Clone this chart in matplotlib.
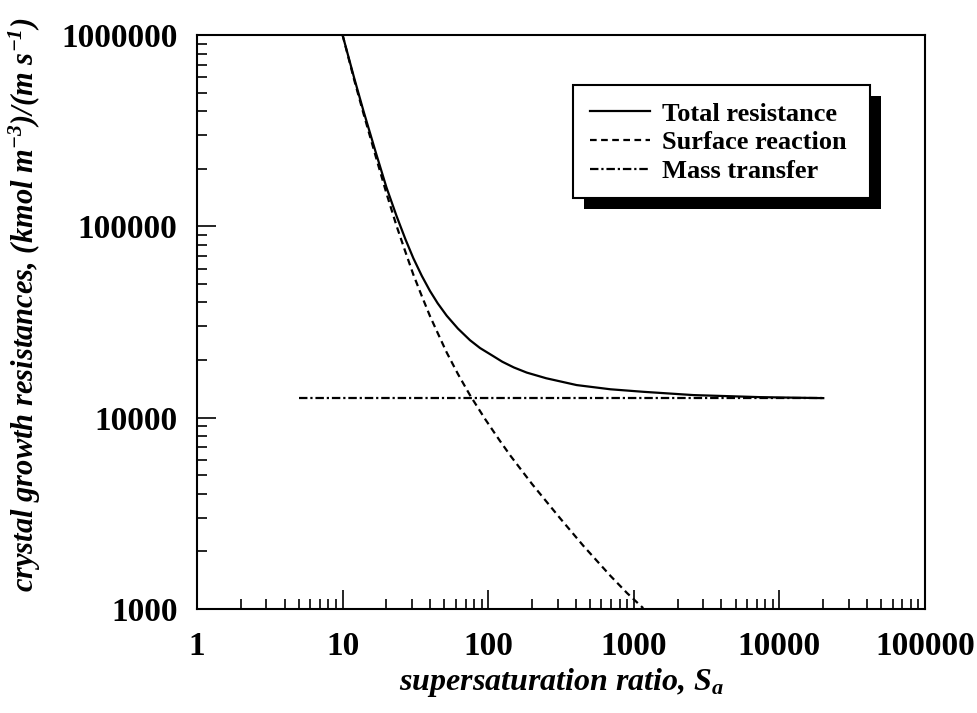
import matplotlib
matplotlib.use("Agg")
from matplotlib import pyplot as plt
from matplotlib.patches import Rectangle

## Data -------------------------------------------------------------------
s_total = [10, 12, 13.9, 17, 20, 23.5, 27, 30.6, 35, 39.8, 45, 51.9, 62, 75,
           88, 108, 125, 150, 184, 250, 405, 691, 1162, 2564, 7360, 20000]
r_total = [1e6, 598000, 402000, 240000, 160000, 113000, 85700, 68200, 55100,
           46000, 39600, 34100, 29200, 25400, 23100, 21000, 19600, 18300,
           17200, 16070, 14800, 14070, 13650, 13120, 12800, 12650]

s_surface = [10, 12, 13.9, 17, 20, 23.5, 27, 30.6, 35, 39.8, 45, 51.9, 62, 75,
             95, 120, 142.5, 200, 314, 450, 691, 900, 1160]
r_surface = [1e6, 585000, 390000, 228000, 149000, 100300, 73600, 56000, 43200,
             34000, 27700, 21900, 16900, 13100, 9860, 7590, 6310, 4500, 2960,
             2140, 1490, 1210, 1010]

s_mass = [5, 20000]
r_mass = [12600, 12600]

labels = ["Total resistance", "Surface reaction", "Mass transfer"]

xticks = [1, 10, 100, 1000, 10000, 100000]
yticks = [1000, 10000, 100000, 1000000]

## Set up plot ------------------------------------------------------------
plt.rc("font", family="Liberation Serif", weight="bold", size=24)
plt.rc("mathtext", fontset="custom", rm="Liberation Serif:italic:bold",
       it="Liberation Serif:italic:bold", bf="Liberation Serif:italic:bold")
plt.rc("axes", linewidth=1.5)

fig = plt.figure(figsize=(9.77, 7.13), dpi=100)
ax = fig.add_axes([0.2016, 0.1459, 0.7452, 0.805])

lw = 1.6
ax.plot(s_total, r_total, color="black", lw=lw, label=labels[0])
ax.plot(s_surface, r_surface, color="black", lw=lw, ls=(0, (3, 2)), label=labels[1])
ax.plot(s_mass, r_mass, color="black", lw=lw, ls=(0, (3.8, 1.3, 1, 1.3)), label=labels[2])

ax.set_xscale("log")
ax.set_yscale("log")
ax.set_xlim((1, 100000))
ax.set_ylim((1000, 1000000))
ax.set_xticks(xticks, [str(v) for v in xticks])
ax.set_yticks(yticks, [str(v) for v in yticks])
ax.tick_params(which="major", direction="in", length=14, width=1.2,
               top=False, right=False)
ax.tick_params(axis="x", which="major", pad=16)
ax.tick_params(axis="y", which="major", pad=14)
ax.tick_params(which="minor", direction="in", length=7, width=1.2,
               top=False, right=False)

ax.set_xlabel("supersaturation ratio, $S_a$", style="italic",
              fontweight="bold", fontsize=23)
ax.set_ylabel("crystal growth resistances, (kmol m$^{-3}$)/(m s$^{-1}$)",
              style="italic", fontweight="bold", fontsize=22)
ax.xaxis.set_label_coords(0.5, -0.1)
ax.yaxis.set_label_coords(-0.212, 0.53)

# legend box with heavy offset shadow
box_x0, box_y0, box_w, box_h = 0.5165, 0.716, 0.408, 0.197
off_x, off_y = 11 / 728, 11 / 574
ax.add_patch(Rectangle((box_x0 + off_x, box_y0 - off_y), box_w, box_h,
                       transform=ax.transAxes, facecolor="black",
                       edgecolor="none", zorder=4))
ax.add_patch(Rectangle((box_x0, box_y0), box_w, box_h,
                       transform=ax.transAxes, facecolor="white",
                       edgecolor="black", lw=1.5, zorder=4.5))

leg = ax.legend(loc="upper left", bbox_to_anchor=(box_x0 + 0.012, box_y0 + box_h - 0.016),
                borderaxespad=0, frameon=False, fontsize=19, handlelength=2.3,
                handletextpad=0.45, labelspacing=0.2, borderpad=0.3)
leg.set_zorder(5)

fig.savefig("out.png", dpi=100)
